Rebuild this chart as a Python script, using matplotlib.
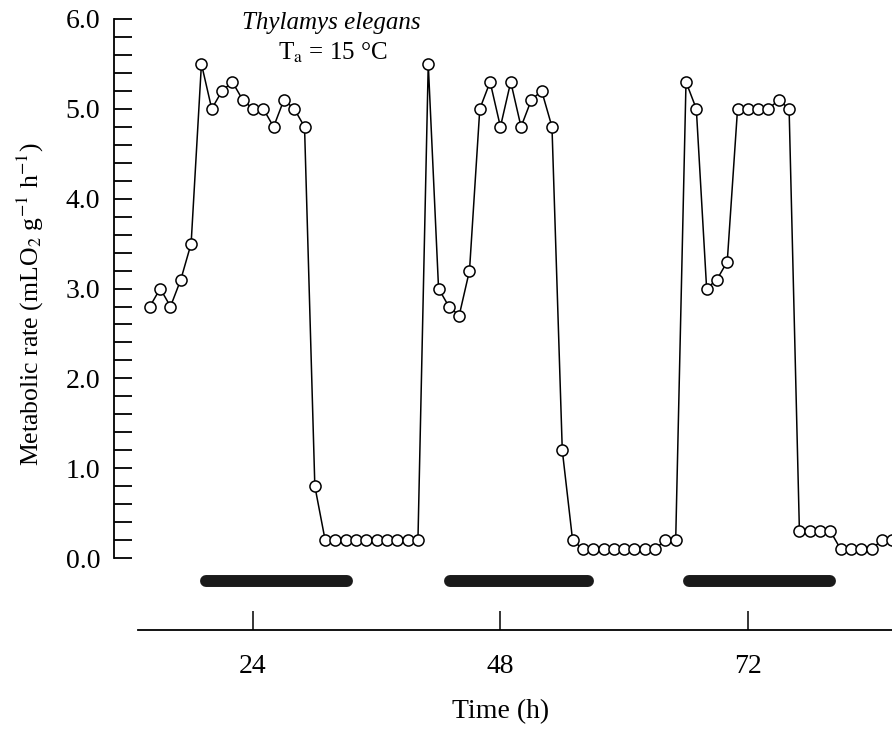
import numpy as np
import matplotlib
matplotlib.use("Agg")
import matplotlib.pyplot as plt

plt.rcParams['font.family'] = ['Liberation Serif', 'DejaVu Serif']
plt.rcParams['mathtext.fontset'] = 'stix'

# hourly metabolic rate readings, starting at hour 14
start_hour = 14
rate = [2.8, 3.0, 2.8, 3.1, 3.5, 5.5, 5.0, 5.2, 5.3, 5.1, 5.0, 5.0, 4.8, 5.1, 5.0, 4.8,
        0.8, 0.2, 0.2, 0.2, 0.2, 0.2, 0.2, 0.2, 0.2, 0.2, 0.2,
        5.5, 3.0, 2.8, 2.7, 3.2, 5.0, 5.3, 4.8, 5.3, 4.8, 5.1, 5.2, 4.8,
        1.2, 0.2, 0.1, 0.1, 0.1, 0.1, 0.1, 0.1, 0.1, 0.1, 0.2, 0.2,
        5.3, 5.0, 3.0, 3.1, 3.3, 5.0, 5.0, 5.0, 5.0, 5.1, 5.0,
        0.3, 0.3, 0.3, 0.3, 0.1, 0.1, 0.1, 0.1, 0.2, 0.2]
hours = start_hour + np.arange(len(rate))

# dark phases (black bars under the trace)
dark_start = [19.4, 43.1, 66.3]
dark_end = [33.1, 56.5, 80.0]

xticks = [24, 48, 72]
yticks = [0, 1, 2, 3, 4, 5, 6]

fig = plt.figure(figsize=(8.92, 7.29), dpi=100)
ax = fig.add_axes([114 / 892, 1 - 630 / 729, 1 - 114 / 892, (630 - 19) / 729])

ax.plot(hours, rate, color='black', lw=1.1, marker='o', markersize=8,
        markerfacecolor='white', markeredgecolor='black', markeredgewidth=1.1,
        clip_on=True, zorder=3)

for s, e in zip(dark_start, dark_end):
    ax.plot([s, e], [-0.256, -0.256], color='#1a1a1a', lw=8.6,
            solid_capstyle='round')

ax.set_xlim(10.52, 85.98)
ax.set_ylim(-0.80, 6.0)

ax.spines['top'].set_visible(False)
ax.spines['right'].set_visible(False)
ax.spines['left'].set_bounds(0, 6)
ax.spines['bottom'].set_bounds(12.8, 85.98)
ax.spines['left'].set_linewidth(1.3)
ax.spines['bottom'].set_linewidth(1.3)

ax.set_yticks(yticks)
ax.set_yticklabels(['%.1f' % v for v in yticks], fontsize=20)
ax.set_yticks(np.arange(0, 6.01, 0.2), minor=True)
ax.tick_params(axis='y', which='both', direction='in', length=13, width=1.3, pad=10)

ax.set_xticks(xticks)
ax.set_xticklabels([str(v) for v in xticks], fontsize=20)
ax.tick_params(axis='x', direction='in', length=14, width=1.1, pad=17)

fig.text(30 / 892, 1 - 304 / 729, 'Metabolic rate (mLO$_2$ g$^{-1}$ h$^{-1}$)',
         rotation=90, ha='center', va='center', fontsize=18.5)
fig.text(501 / 892, 1 - 712 / 729, 'Time (h)', ha='center', va='center', fontsize=20)

ax.text(0.279, 0.983, 'Thylamys elegans', transform=ax.transAxes, ha='center',
        va='baseline', fontsize=18, style='italic')
ax.text(0.281, 0.933, 'T$_\\mathrm{a}$ = 15 °C', transform=ax.transAxes, ha='center',
        va='baseline', fontsize=18)

fig.savefig('out.png', dpi=100)
